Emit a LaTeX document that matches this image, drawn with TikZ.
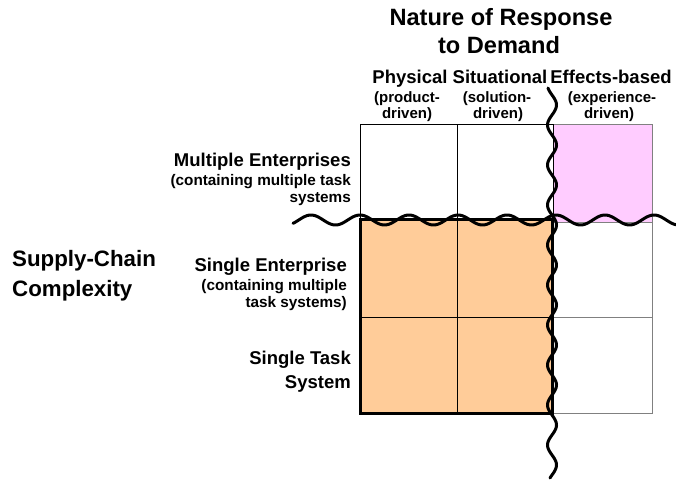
\documentclass[tikz,border=0pt]{standalone}
\usepackage{fontspec}
\setmainfont{Liberation Sans}
\definecolor{orangefill}{HTML}{FFCC99}
\definecolor{pinkfill}{HTML}{FFCCFF}
\definecolor{cellgray}{HTML}{808080}
\newcommand{\fs}[1]{\fontsize{#1}{#1}\selectfont\bfseries}
\begin{document}
\begin{tikzpicture}[x=1pt,y=-1pt,
  title/.style={font=\fs{23.6}, anchor=base, inner sep=0pt},
  colhead/.style={font=\fs{18.5}, anchor=base, inner sep=0pt},
  colsub/.style={font=\fs{15}, anchor=base, inner sep=0pt},
  rowhead/.style={font=\fs{18.5}, anchor=base east, inner sep=0pt},
  rowsub/.style={font=\fs{15.3}, anchor=base east, inner sep=0pt},
  sidehead/.style={font=\fs{22.3}, anchor=base west, inner sep=0pt},
  gridline/.style={line width=1pt, black},
  greyline/.style={line width=1pt, cellgray},
  breakline/.style={line width=3pt, black, line cap=round, line join=round},
]
\useasboundingbox (0,0) rectangle (676,481);

% axis titles
\node[title] (t1) at (501,26) {Nature of Response};
\node[title] (t2) at (499,54) {to Demand};
\node[sidehead] (s1) at (12,266) {Supply-Chain};
\node[sidehead] (s2) at (12,296) {Complexity};

% column headings
\node[colhead] (c1) at (410,84) {Physical};
\node[colhead] (c2) at (500,84) {Situational};
\node[colhead] (c3) at (611,84) {Effects-based};
\node[colsub] (c1a) at (407,103) {(product-};
\node[colsub] (c1b) at (407,119) {driven)};
\node[colsub] (c2a) at (497,103) {(solution-};
\node[colsub] (c2b) at (498,119) {driven)};
\node[colsub] (c3a) at (612,103) {(experience-};
\node[colsub] (c3b) at (609,119) {driven)};

% row headings
\node[rowhead] (r1) at (351,166) {Multiple Enterprises};
\node[rowsub] (r1a) at (351,185) {(containing multiple task};
\node[rowsub] (r1b) at (351,202) {systems};
\node[rowhead] (r2) at (347,271) {Single Enterprise};
\node[rowsub] (r2a) at (347,290) {(containing multiple};
\node[rowsub] (r2b) at (347,307) {task systems)};
\node[rowhead] (r3) at (351,364) {Single Task};
\node[rowhead] (r3b) at (351,388) {System};

% cells
\fill[pinkfill] (553,125) rectangle (652,222);
\draw[greyline] (553,125) rectangle (652,222);
\draw[greyline] (553,222) rectangle (652,317);
\draw[greyline] (553,317) rectangle (652,413);
\draw[gridline] (360,125) rectangle (553,222);
\draw[gridline] (457,125) -- (457,222);

% shaded block
\fill[orangefill] (360,219) rectangle (552,413);
\draw[gridline] (457,219) -- (457,413);
\draw[gridline] (360,317) -- (552,317);
\draw[line width=3pt, black] (360,219) rectangle (552,413);

% break lines
\draw[breakline] plot[domain=293:676, samples=240] (\x, {220-5*cos((\x-360)/49*360)});
\draw[breakline] plot[domain=88:478, samples=260] ({552+4.5*cos((\x-105)/40*360)}, \x);
\end{tikzpicture}
\end{document}
